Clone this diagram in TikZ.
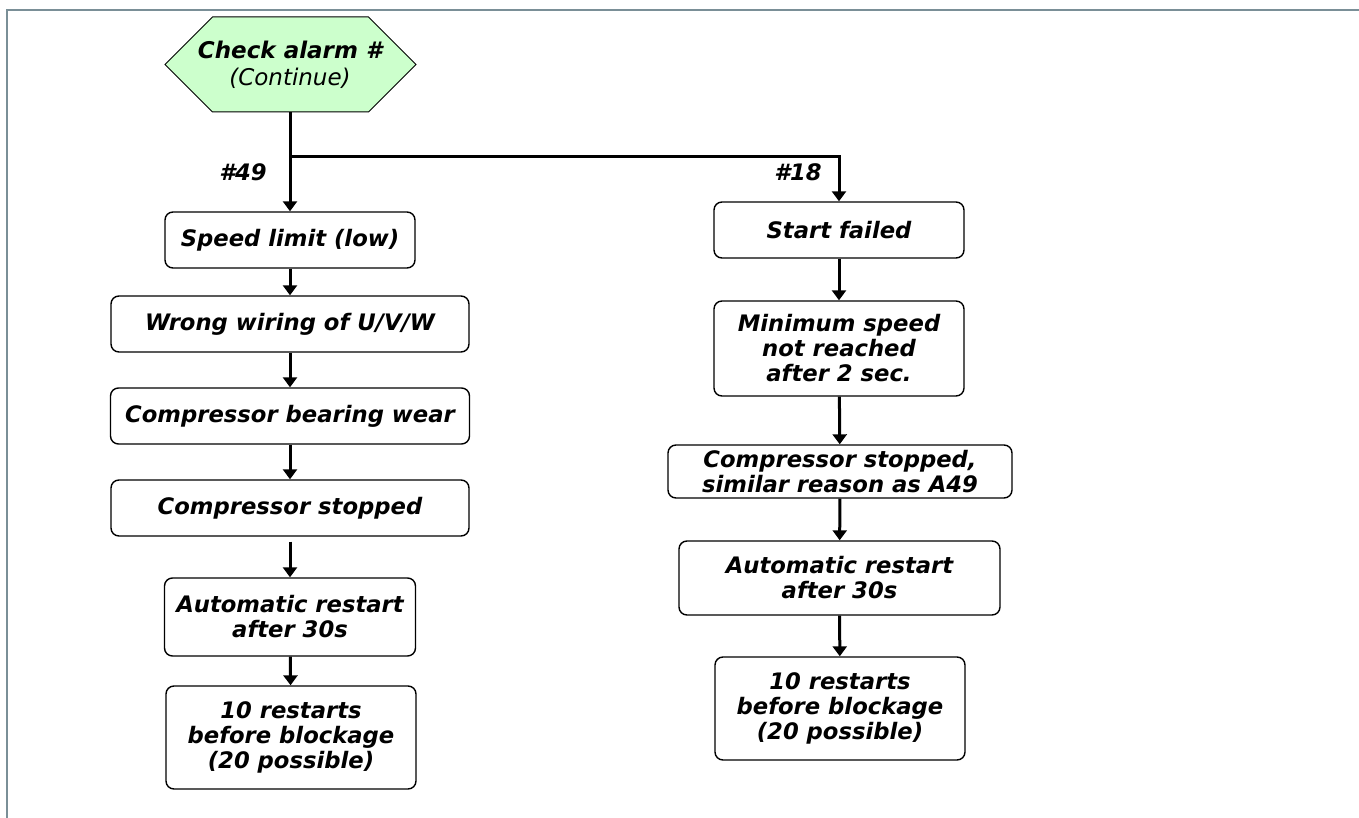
\documentclass[tikz,border=0pt]{standalone}
\usepackage{fontspec}
\setmainfont{DejaVu Sans}
\usetikzlibrary{arrows.meta}

\definecolor{hexgreen}{HTML}{CCFFCC}
\definecolor{framegray}{HTML}{7A8F97}

\tikzset{
  box/.style={draw,rounded corners=8pt,line width=1.4pt,align=center,inner sep=0pt,
    font=\fontsize{22.7}{25}\selectfont\bfseries\itshape},
  hexa/.style={align=center,inner sep=0pt,font=\fontsize{23}{27}\selectfont\itshape},
  hexline/.style={draw,fill=hexgreen,line width=1pt},
  flow/.style={line width=3pt,->},
  lbl/.style={font=\fontsize{22.7}{25}\selectfont\bfseries\itshape}
}

\begin{document}
\begin{tikzpicture}[x=1pt,y=-1pt,>={Triangle[length=10pt,width=14pt]}]
  \useasboundingbox (0,0) rectangle (1359,818);
  \draw[framegray,line width=1.5pt] (7,818) -- (7,10) -- (1359,10);

  % start of the check
  \draw[hexline] (165,64.5) -- (212.5,17) -- (368.5,17) -- (416,64.5)
    -- (368.5,112) -- (212.5,112) -- cycle;
  \node[hexa,minimum width=251pt,minimum height=95pt] (check) at (290,64.5)
    {{\bfseries Check alarm \#}\\(Continue)};
  \coordinate (split) at (290,157);

  % alarm 49
  \node[box,minimum width=250pt,minimum height=56pt] (speed) at (290,240) {Speed limit (low)};
  \node[box,minimum width=358pt,minimum height=56pt] (wiring) at (290,324) {Wrong wiring of U/V/W};
  \node[box,minimum width=359pt,minimum height=56pt] (bearing) at (290,416) {Compressor bearing wear};
  \node[box,minimum width=358pt,minimum height=56pt] (stopA) at (290,508) {Compressor stopped};
  \node[box,minimum width=251pt,minimum height=78pt] (restartA) at (290,617) {Automatic restart\\after 30s};
  \node[box,minimum width=250pt,minimum height=103pt] (blockA) at (291,737.5) {10 restarts\\before blockage\\(20 possible)};

  % alarm 18
  \node[box,minimum width=250pt,minimum height=56pt] (startfail) at (839,230) {Start failed};
  \node[box,minimum width=250pt,minimum height=95pt] (minspeed) at (839,348.5) {Minimum speed\\not reached\\after 2 sec.};
  \node[box,minimum width=344pt,minimum height=53pt] (stopB) at (840,471.5) {Compressor stopped,\\similar reason as A49};
  \node[box,minimum width=321pt,minimum height=74pt] (restartB) at (839.5,578) {Automatic restart\\after 30s};
  \node[box,minimum width=250pt,minimum height=103pt] (blockB) at (840,708.5) {10 restarts\\before blockage\\(20 possible)};

  \node[lbl] (a49) at (243,172) {\#49};
  \node[lbl] (a18) at (798,172) {\#18};

  % connectors
  \draw[line width=3pt] (check.south) -- (split);
  \draw[flow] (split) -- (speed.north);
  \draw[flow] (split) -| (startfail.north);
  \draw[flow] (speed) -- (wiring);
  \draw[flow] (wiring) -- (bearing);
  \draw[flow] (bearing) -- (stopA);
  \draw[flow] ([yshift=-5pt]stopA.south) -- (restartA);
  \draw[flow] (restartA) -- (blockA);
  \draw[flow] (startfail) -- (minspeed);
  \draw[flow] (minspeed) -- (stopB);
  \draw[flow] (stopB) -- (restartB);
  \draw[flow] (restartB) -- (blockB);
\end{tikzpicture}
\end{document}
